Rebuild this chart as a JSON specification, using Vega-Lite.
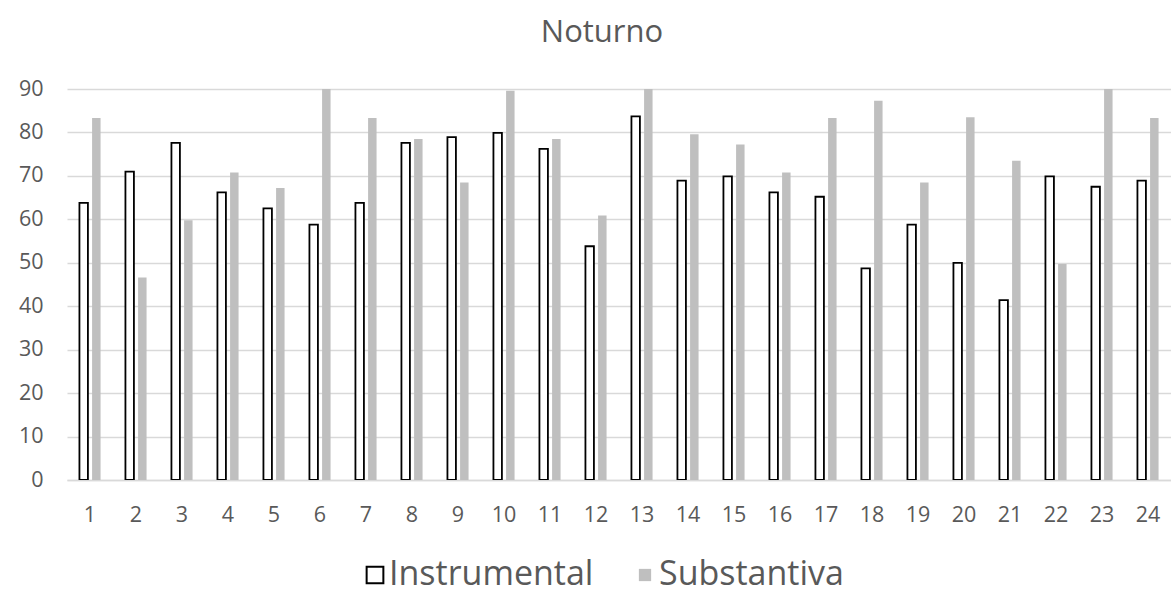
{
  "$schema": "https://vega.github.io/schema/vega-lite/v6.json",
  "autosize": {"type": "none"},
  "width": 1104,
  "height": 391,
  "padding": {"left": 67, "top": 89, "right": 0, "bottom": 116},
  "background": "white",
  "title": {
    "text": "Noturno",
    "font": "Open Sans",
    "fontSize": 31,
    "fontWeight": "normal",
    "color": "#595959",
    "anchor": "middle",
    "dx": -17,
    "offset": 29
  },
  "config": {
    "view": {"stroke": null},
    "font": "Open Sans"
  },
  "data": {
    "values": [
      {"n": "1", "tipo": "Instrumental", "valor": 63.8},
      {"n": "1", "tipo": "Substantiva", "valor": 83.3},
      {"n": "2", "tipo": "Instrumental", "valor": 71.0},
      {"n": "2", "tipo": "Substantiva", "valor": 46.6},
      {"n": "3", "tipo": "Instrumental", "valor": 77.6},
      {"n": "3", "tipo": "Substantiva", "valor": 59.8},
      {"n": "4", "tipo": "Instrumental", "valor": 66.2},
      {"n": "4", "tipo": "Substantiva", "valor": 70.8},
      {"n": "5", "tipo": "Instrumental", "valor": 62.5},
      {"n": "5", "tipo": "Substantiva", "valor": 67.2},
      {"n": "6", "tipo": "Instrumental", "valor": 58.8},
      {"n": "6", "tipo": "Substantiva", "valor": 90.0},
      {"n": "7", "tipo": "Instrumental", "valor": 63.8},
      {"n": "7", "tipo": "Substantiva", "valor": 83.3},
      {"n": "8", "tipo": "Instrumental", "valor": 77.6},
      {"n": "8", "tipo": "Substantiva", "valor": 78.5},
      {"n": "9", "tipo": "Instrumental", "valor": 78.9},
      {"n": "9", "tipo": "Substantiva", "valor": 68.5},
      {"n": "10", "tipo": "Instrumental", "valor": 79.9},
      {"n": "10", "tipo": "Substantiva", "valor": 89.6},
      {"n": "11", "tipo": "Instrumental", "valor": 76.2},
      {"n": "11", "tipo": "Substantiva", "valor": 78.5},
      {"n": "12", "tipo": "Instrumental", "valor": 53.8},
      {"n": "12", "tipo": "Substantiva", "valor": 60.9},
      {"n": "13", "tipo": "Instrumental", "valor": 83.7},
      {"n": "13", "tipo": "Substantiva", "valor": 90.0},
      {"n": "14", "tipo": "Instrumental", "valor": 68.9},
      {"n": "14", "tipo": "Substantiva", "valor": 79.6},
      {"n": "15", "tipo": "Instrumental", "valor": 69.9},
      {"n": "15", "tipo": "Substantiva", "valor": 77.2},
      {"n": "16", "tipo": "Instrumental", "valor": 66.2},
      {"n": "16", "tipo": "Substantiva", "valor": 70.8},
      {"n": "17", "tipo": "Instrumental", "valor": 65.2},
      {"n": "17", "tipo": "Substantiva", "valor": 83.3},
      {"n": "18", "tipo": "Instrumental", "valor": 48.7},
      {"n": "18", "tipo": "Substantiva", "valor": 87.3},
      {"n": "19", "tipo": "Instrumental", "valor": 58.8},
      {"n": "19", "tipo": "Substantiva", "valor": 68.5},
      {"n": "20", "tipo": "Instrumental", "valor": 50.0},
      {"n": "20", "tipo": "Substantiva", "valor": 83.5},
      {"n": "21", "tipo": "Instrumental", "valor": 41.4},
      {"n": "21", "tipo": "Substantiva", "valor": 73.5},
      {"n": "22", "tipo": "Instrumental", "valor": 69.9},
      {"n": "22", "tipo": "Substantiva", "valor": 49.7},
      {"n": "23", "tipo": "Instrumental", "valor": 67.5},
      {"n": "23", "tipo": "Substantiva", "valor": 90.0},
      {"n": "24", "tipo": "Instrumental", "valor": 68.9},
      {"n": "24", "tipo": "Substantiva", "valor": 83.3}
    ]
  },
  "mark": {"type": "bar", "strokeWidth": 1.8, "clip": true},
  "encoding": {
    "x": {
      "field": "n",
      "type": "ordinal",
      "sort": null,
      "scale": {"paddingInner": 0.45, "paddingOuter": 0.225},
      "axis": {
        "title": null,
        "labelAngle": 0,
        "ticks": false,
        "domainColor": "#D9D9D9",
        "domainWidth": 1.5,
        "labelColor": "#595959",
        "labelFontSize": 21.5,
        "labelPadding": 24,
        "labelFont": "Open Sans"
      }
    },
    "xOffset": {
      "field": "tipo",
      "type": "nominal",
      "scale": {"paddingInner": 0.33, "paddingOuter": 0.165}
    },
    "y": {
      "field": "valor",
      "type": "quantitative",
      "scale": {"domain": [0, 90], "nice": false},
      "axis": {
        "title": null,
        "values": [0, 10, 20, 30, 40, 50, 60, 70, 80, 90],
        "domain": false,
        "ticks": false,
        "gridColor": "#D9D9D9",
        "gridWidth": 1.5,
        "labelColor": "#595959",
        "labelFontSize": 21.5,
        "labelPadding": 24,
        "labelFont": "Open Sans"
      }
    },
    "color": {
      "field": "tipo",
      "type": "nominal",
      "scale": {"domain": ["Instrumental", "Substantiva"], "range": ["#FFFFFF", "#BFBFBF"]},
      "legend": {
        "title": null,
        "orient": "none",
        "legendX": 291,
        "legendY": 469,
        "direction": "horizontal",
        "labelFontSize": 34,
        "labelLimit": 0,
        "labelColor": "#595959",
        "labelFont": "Open Sans",
        "symbolType": "square",
        "symbolSize": 280,
        "symbolStrokeWidth": 2,
        "columnPadding": 34,
        "labelOffset": -3,
        "encode": {"symbols": {"update": {"size": {"signal": "datum.value === 'Substantiva' ? 150 : 280"}}}}
      }
    },
    "stroke": {
      "field": "tipo",
      "type": "nominal",
      "scale": {"domain": ["Instrumental", "Substantiva"], "range": ["#000000", "transparent"]},
      "legend": {
        "title": null,
        "orient": "none",
        "legendX": 291,
        "legendY": 469,
        "direction": "horizontal",
        "labelFontSize": 34,
        "labelLimit": 0,
        "labelColor": "#595959",
        "labelFont": "Open Sans",
        "symbolType": "square",
        "symbolSize": 280,
        "symbolStrokeWidth": 2,
        "columnPadding": 34,
        "labelOffset": -3,
        "encode": {"symbols": {"update": {"size": {"signal": "datum.value === 'Substantiva' ? 150 : 280"}}}}
      }
    }
  }
}
